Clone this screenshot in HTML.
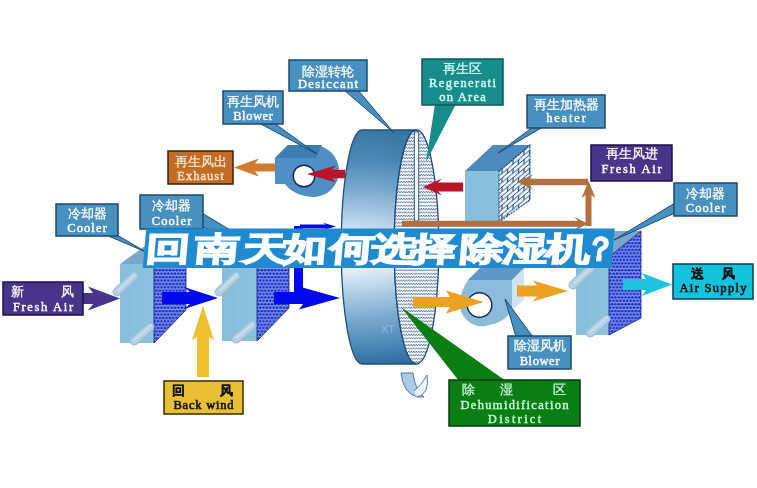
<!DOCTYPE html>
<html><head><meta charset="utf-8">
<style>
html,body{margin:0;padding:0;background:#fff;width:757px;height:488px;overflow:hidden}
svg{display:block;filter:blur(0.45px)}
.cn{font-family:"Liberation Sans",sans-serif}
.en{font-family:"Liberation Serif",serif}
</style></head><body>
<svg width="757" height="488" viewBox="0 0 757 488">
<defs>
<linearGradient id="wheelG" x1="0" y1="130" x2="0" y2="364" gradientUnits="userSpaceOnUse">
<stop offset="0" stop-color="#3676a2"/>
<stop offset="0.13" stop-color="#4a88b4"/>
<stop offset="0.256" stop-color="#7aaad0"/>
<stop offset="0.385" stop-color="#b8d4ea"/>
<stop offset="0.47" stop-color="#e0ecf6"/>
<stop offset="0.58" stop-color="#eef5fa"/>
<stop offset="0.68" stop-color="#b8d4ea"/>
<stop offset="0.81" stop-color="#78a8d0"/>
<stop offset="0.92" stop-color="#4a88b8"/>
<stop offset="1" stop-color="#2e6c9e"/>
</linearGradient>
<linearGradient id="wheelH" x1="340" y1="0" x2="400" y2="0" gradientUnits="userSpaceOnUse">
<stop offset="0" stop-color="#fff" stop-opacity="0"/>
<stop offset="1" stop-color="#1f5a8c" stop-opacity="0.08"/>
</linearGradient>
<pattern id="wave" width="5" height="3.4" patternUnits="userSpaceOnUse">
<rect width="5" height="3.4" fill="#f6fafd"/>
<path d="M-1.25 1.0 L0 2.4 L1.25 1.0 L2.5 2.4 L3.75 1.0 L5 2.4 L6.25 1.0" fill="none" stroke="#1f4585" stroke-width="0.75"/>
</pattern>
<pattern id="dots" width="3.4" height="6.8" patternUnits="userSpaceOnUse">
<rect width="3.4" height="6.8" fill="#94a8f8"/>
<circle cx="1.7" cy="1.7" r="1.45" fill="#1e32c4"/>
<circle cx="0" cy="5.1" r="1.45" fill="#1e32c4"/>
<circle cx="3.4" cy="5.1" r="1.45" fill="#1e32c4"/>
</pattern>
<pattern id="brick" width="11" height="9" patternUnits="userSpaceOnUse" patternTransform="translate(499,171) skewY(-40)">
<rect width="11" height="9" fill="#f4f8fc"/>
<path d="M0 0.5H11M0 5H11M3 0.5V5M8.5 5V9" stroke="#22508e" stroke-width="1.1" fill="none"/>
</pattern>
<linearGradient id="coolF" x1="0" y1="0" x2="1" y2="0">
<stop offset="0" stop-color="#86bdd8"/>
<stop offset="1" stop-color="#8cc2dc"/>
</linearGradient>
<linearGradient id="blueArr" x1="0" y1="0" x2="0" y2="1">
<stop offset="0" stop-color="#0a1ad8"/>
<stop offset="0.5" stop-color="#0010f0"/>
<stop offset="1" stop-color="#0a18c8"/>
</linearGradient>
</defs>
<path d="M120,264 L154,264 L186,241 L152,241 Z" fill="#7aa6cc"/>
<rect x="120" y="264" width="34" height="79" fill="url(#coolF)"/>
<path d="M154,264 L186,241 L186,310 L154,343 Z" fill="url(#dots)" stroke="#0e1c80" stroke-width="0.8"/>
<path d="M117,292 L134,276" stroke="#98bfd8" stroke-width="9" stroke-linecap="round"/>
<path d="M117,292 L134,276" stroke="#b4d2e6" stroke-width="6.5" stroke-linecap="round"/>
<path d="M118,290.5 L135,274.5" stroke="#e0edf6" stroke-width="1.3" stroke-linecap="round" opacity="0.6"/>
<path d="M134,341 L150,327" stroke="#98bfd8" stroke-width="9" stroke-linecap="round"/>
<path d="M134,341 L150,327" stroke="#b4d2e6" stroke-width="6.5" stroke-linecap="round"/>
<path d="M135,339.5 L151,325.5" stroke="#e0edf6" stroke-width="1.3" stroke-linecap="round" opacity="0.6"/>
<path d="M222,264 L257,264 L289,241 L254,241 Z" fill="#7aa6cc"/>
<rect x="222" y="264" width="35" height="77" fill="url(#coolF)"/>
<path d="M257,264 L289,241 L289,308 L257,341 Z" fill="url(#dots)" stroke="#0e1c80" stroke-width="0.8"/>
<path d="M219,292 L236,276" stroke="#98bfd8" stroke-width="9" stroke-linecap="round"/>
<path d="M219,292 L236,276" stroke="#b4d2e6" stroke-width="6.5" stroke-linecap="round"/>
<path d="M220,290.5 L237,274.5" stroke="#e0edf6" stroke-width="1.3" stroke-linecap="round" opacity="0.6"/>
<path d="M236,339 L252,325" stroke="#98bfd8" stroke-width="9" stroke-linecap="round"/>
<path d="M236,339 L252,325" stroke="#b4d2e6" stroke-width="6.5" stroke-linecap="round"/>
<path d="M237,337.5 L253,323.5" stroke="#e0edf6" stroke-width="1.3" stroke-linecap="round" opacity="0.6"/>
<path d="M576,257 L609,257 L641,231 L608,231 Z" fill="#7aa6cc"/>
<rect x="576" y="257" width="33" height="78" fill="url(#coolF)"/>
<path d="M609,257 L641,231 L641,318 L609,335 Z" fill="url(#dots)" stroke="#0e1c80" stroke-width="0.8"/>
<path d="M573,285 L590,269" stroke="#98bfd8" stroke-width="9" stroke-linecap="round"/>
<path d="M573,285 L590,269" stroke="#b4d2e6" stroke-width="6.5" stroke-linecap="round"/>
<path d="M574,283.5 L591,267.5" stroke="#e0edf6" stroke-width="1.3" stroke-linecap="round" opacity="0.6"/>
<path d="M590,333 L606,319" stroke="#98bfd8" stroke-width="9" stroke-linecap="round"/>
<path d="M590,333 L606,319" stroke="#b4d2e6" stroke-width="6.5" stroke-linecap="round"/>
<path d="M591,331.5 L607,317.5" stroke="#e0edf6" stroke-width="1.3" stroke-linecap="round" opacity="0.6"/>
<path d="M162,292.0 L190,292.0 L184,287.0 L218,298 L184,309.0 L190,304.0 L162,304.0 Z" fill="#0008ee"/>
<rect x="294" y="226" width="9" height="72" fill="#0008ee"/>
<path d="M274,292.0 L303,292.0 L299,286.5 L340,298 L299,309.5 L303,304.0 L274,304.0 Z" fill="#0008ee"/>
<path d="M300,224.5 L326,224.5 L322,222.5 L336,226.5 L322,230.5 L326,228.5 L300,228.5 Z" fill="#0008ee"/>
<path d="M83,293.0 L93,293.0 L88,286.5 L120,298.5 L88,310.5 L93,304.0 L83,304.0 Z" fill="#483488"/>
<path d="M197.0,377 L197.0,337 L192.0,340 L203,306 L214.0,340 L209.0,337 L209.0,377 Z" fill="#efc030"/>
<path d="M362,130 L416.5,130 A22.3,117 0 0 0 416.5,364 L362,364 A20.8,117 0 0 1 362,130 Z" fill="url(#wheelG)"/>
<path d="M362,130 L416.5,130 A22.3,117 0 0 0 416.5,364 L362,364 A20.8,117 0 0 1 362,130 Z" fill="url(#wheelH)" stroke="#1d5080" stroke-width="1.3"/>
<ellipse cx="416.5" cy="247" rx="22.3" ry="117" fill="url(#wave)" stroke="#1d4a80" stroke-width="1.3"/>
<rect x="414.3" y="132" width="4.4" height="89" fill="#fff" stroke="#1d4a80" stroke-width="0.9"/>
<text x="381" y="333" font-family="Liberation Sans, sans-serif" font-size="11" fill="#ffffff" fill-opacity="0.3">XT</text>
<path d="M401,373 L413,373 Q415,390 424,397 L417,397 Q403,393 401,373 Z" fill="#a9cde8" stroke="#3f73a6" stroke-width="0.9"/>
<path d="M417,397 Q430,394 427,375 Q421,386 414,391" fill="#eef5fb" stroke="#3f73a6" stroke-width="0.9"/>
<path d="M275,158 L288,145 L313,145 A26,26 0 0 1 339,171 A26,26 0 0 1 313,197 Q294,196 285,184 L275,184 Z" fill="#4f8fc3"/>
<path d="M275,158 L288,145 L322,145 L316,158 Z" fill="#3e7db2"/>
<circle cx="304" cy="176" r="10.8" fill="#fff" stroke="#17284c" stroke-width="1.4"/>
<path d="M345,169.75 L332,169.75 L336,165.5 L307,174 L336,182.5 L332,178.25 L345,178.25 Z" fill="#b8142a"/>
<path d="M275,163.5 L255,163.5 L259,158.5 L234,167.5 L259,176.5 L255,171.5 L275,171.5 Z" fill="#d27a30"/>
<path d="M465,171 L499,171 L530,145 L493,145 Z" fill="#4d8bbf"/>
<rect x="465" y="171" width="34" height="51" fill="#88c0dc"/>
<path d="M499,171 L530,145 L530,200 L499,222 Z" fill="url(#brick)" stroke="#22508e" stroke-width="1.2" stroke-dasharray="2,1"/>
<path d="M463,182.5 L438,182.5 L442,178.5 L423,187 L442,195.5 L438,191.5 L463,191.5 Z" fill="#b8142a"/>
<path d="M402,220.8 L578,220.8 L574,216.8 L588,223.8 L574,230.8 L578,226.8 L402,226.8 Z" fill="#b0703f"/>
<path d="M585.5,226 L585.5,195 L581.5,198 L588.5,181 L595.5,198 L591.5,195 L591.5,226 Z" fill="#b0703f"/>
<path d="M588,178.75 L529,178.75 L533,174.5 L517,182 L533,189.5 L529,185.25 L588,185.25 Z" fill="#b0703f"/>
<path d="M468,280 L512,280 L512,308 Q508,322 485,326 A22,22 0 0 1 460,302 Q461,290 468,280 Z" fill="#88bcd8"/>
<path d="M512,280 L524,268 L524,300 L512,310 Z" fill="#cfe3f2"/>
<path d="M468,280 L480,268 L524,268 L512,280 Z" fill="#5f98c8"/>
<circle cx="479.5" cy="305" r="12.3" fill="#fff" stroke="#17284c" stroke-width="1.4"/>
<path d="M413,297.0 L450,297.0 L446,290.5 L483.5,302 L446,313.5 L450,307.0 L413,307.0 Z" fill="#eba122"/>
<path d="M517,285.5 L537,285.5 L533,280.5 L568,291 L533,301.5 L537,296.5 L517,296.5 Z" fill="#eba122"/>
<path d="M623,279.0 L646,279.0 L642,273.0 L672,284.5 L642,296.0 L646,290.0 L623,290.0 Z" fill="#1cc4e0"/>
<path d="M344,90 L358,90 L394,133 Z" fill="#4890c0" stroke="#1c4a70" stroke-width="1"/>
<path d="M259,123 L274,123 L317,154 Z" fill="#4890c0" stroke="#1c4a70" stroke-width="1"/>
<path d="M435,104 L456,104 L426,162 Z" fill="#178c8a"/>
<path d="M533,127 L543,127 L498,153 Z" fill="#4890c0" stroke="#1c4a70" stroke-width="1"/>
<path d="M675,203 L675,213 L614,240 Z" fill="#4890c0" stroke="#1c4a70" stroke-width="1"/>
<path d="M106,235 L117,235 L146,252 Z" fill="#4890c0" stroke="#1c4a70" stroke-width="1"/>
<path d="M202,213 L202,227 L250,242 Z" fill="#4890c0" stroke="#1c4a70" stroke-width="1"/>
<path d="M516,337 L533,337 L505,299 Z" fill="#4890c0" stroke="#1c4a70" stroke-width="1"/>
<path d="M459,381 L506,381 L401,307 Z" fill="#0a7e14"/>
<rect x="289" y="60" width="78" height="31" fill="#4890c0" stroke="#1c4a70" stroke-width="1.5"/>
<text x="328.0" y="76" text-anchor="middle" fill="#fff" class="cn" font-size="13" font-weight="500" stroke="#fff" stroke-width="0.25">除湿转轮</text>
<text x="328.0" y="88" text-anchor="middle" fill="#fff" class="en" font-size="12.5" font-weight="400" stroke="#fff" stroke-width="0.4" textLength="60.1" lengthAdjust="spacing">Desiccant</text>
<rect x="223" y="91" width="60" height="33" fill="#4890c0" stroke="#1c4a70" stroke-width="1.5"/>
<text x="253.0" y="106" text-anchor="middle" fill="#fff" class="cn" font-size="13" font-weight="500" stroke="#fff" stroke-width="0.25">再生风机</text>
<text x="253.0" y="120" text-anchor="middle" fill="#fff" class="en" font-size="12.5" font-weight="400" stroke="#fff" stroke-width="0.4" textLength="39.6" lengthAdjust="spacing">Blower</text>
<rect x="168" y="151" width="65" height="33" fill="#c26c26" stroke="#3a2008" stroke-width="1.5"/>
<text x="200.5" y="166" text-anchor="middle" fill="#fbe6cf" class="cn" font-size="13" font-weight="500" stroke="#fbe6cf" stroke-width="0.25">再生风出</text>
<text x="200.5" y="180" text-anchor="middle" fill="#fbe6cf" class="en" font-size="12.5" font-weight="400" stroke="#fbe6cf" stroke-width="0.4" textLength="46.4" lengthAdjust="spacing">Exhaust</text>
<rect x="422" y="59" width="81" height="46" fill="#178c8a" stroke="#0b5a5a" stroke-width="1.5"/>
<text x="462.5" y="73" text-anchor="middle" fill="#d8fff8" class="cn" font-size="13" font-weight="500" stroke="#d8fff8" stroke-width="0.25">再生区</text>
<text x="462.5" y="87" text-anchor="middle" fill="#d8fff8" class="en" font-size="12.5" font-weight="400" stroke="#d8fff8" stroke-width="0.4" textLength="67.0" lengthAdjust="spacing">Regenerati</text>
<text x="462.5" y="101" text-anchor="middle" fill="#d8fff8" class="en" font-size="12.5" font-weight="400" stroke="#d8fff8" stroke-width="0.4" textLength="46.4" lengthAdjust="spacing">on Area</text>
<rect x="527" y="95" width="78" height="33" fill="#4890c0" stroke="#1c4a70" stroke-width="1.5"/>
<text x="566.0" y="109" text-anchor="middle" fill="#fff" class="cn" font-size="13" font-weight="500" stroke="#fff" stroke-width="0.25">再生加热器</text>
<text x="566.0" y="122" text-anchor="middle" fill="#fff" class="en" font-size="12.5" font-weight="400" stroke="#fff" stroke-width="0.4" textLength="39.6" lengthAdjust="spacing">heater</text>
<rect x="591" y="145" width="81" height="36" fill="#47358a" stroke="#1c1050" stroke-width="1.5"/>
<text x="631.5" y="158" text-anchor="middle" fill="#fff" class="cn" font-size="13" font-weight="500" stroke="#fff" stroke-width="0.25">再生风进</text>
<text x="631.5" y="173" text-anchor="middle" fill="#fff" class="en" font-size="12.5" font-weight="400" stroke="#fff" stroke-width="0.4" textLength="60.1" lengthAdjust="spacing">Fresh Air</text>
<rect x="674" y="183" width="63" height="33" fill="#4890c0" stroke="#1c4a70" stroke-width="1.5"/>
<text x="705.5" y="198" text-anchor="middle" fill="#fff" class="cn" font-size="13" font-weight="500" stroke="#fff" stroke-width="0.25">冷却器</text>
<text x="705.5" y="212" text-anchor="middle" fill="#fff" class="en" font-size="12.5" font-weight="400" stroke="#fff" stroke-width="0.4" textLength="39.6" lengthAdjust="spacing">Cooler</text>
<rect x="673" y="264" width="80" height="35" fill="#14c2dc" stroke="#0a3a5a" stroke-width="1.5"/>
<text x="697.5" y="278" text-anchor="middle" fill="#111" class="cn" font-size="13" font-weight="700" stroke="#111" stroke-width="0.25">送</text>
<text x="728.5" y="278" text-anchor="middle" fill="#111" class="cn" font-size="13" font-weight="700" stroke="#111" stroke-width="0.25">风</text>
<text x="713.0" y="292" text-anchor="middle" fill="#111" class="en" font-size="12.5" font-weight="400" stroke="#111" stroke-width="0.6" textLength="67.0" lengthAdjust="spacing">Air Supply</text>
<rect x="508" y="336" width="63" height="33" fill="#4890c0" stroke="#1c4a70" stroke-width="1.5"/>
<text x="539.5" y="350" text-anchor="middle" fill="#fff" class="cn" font-size="13" font-weight="500" stroke="#fff" stroke-width="0.25">除湿风机</text>
<text x="539.5" y="365" text-anchor="middle" fill="#fff" class="en" font-size="12.5" font-weight="400" stroke="#fff" stroke-width="0.4" textLength="39.6" lengthAdjust="spacing">Blower</text>
<rect x="449" y="380" width="131" height="46" fill="#0a7e14" stroke="#043a14" stroke-width="1.5"/>
<text x="468.5" y="394" text-anchor="middle" fill="#c8ffd8" class="cn" font-size="13" font-weight="500" stroke="#c8ffd8" stroke-width="0.25">除</text>
<text x="506" y="394" text-anchor="middle" fill="#c8ffd8" class="cn" font-size="13" font-weight="500" stroke="#c8ffd8" stroke-width="0.25">湿</text>
<text x="559" y="394" text-anchor="middle" fill="#c8ffd8" class="cn" font-size="13" font-weight="500" stroke="#c8ffd8" stroke-width="0.25">区</text>
<text x="514.5" y="409" text-anchor="middle" fill="#c8ffd8" class="en" font-size="12.5" font-weight="400" stroke="#c8ffd8" stroke-width="0.4" textLength="108.1" lengthAdjust="spacing">Dehumidification</text>
<text x="514.5" y="423" text-anchor="middle" fill="#c8ffd8" class="en" font-size="12.5" font-weight="400" stroke="#c8ffd8" stroke-width="0.4" textLength="53.3" lengthAdjust="spacing">District</text>
<rect x="56" y="204" width="62" height="32" fill="#4890c0" stroke="#1c4a70" stroke-width="1.5"/>
<text x="87.0" y="218" text-anchor="middle" fill="#fff" class="cn" font-size="13" font-weight="500" stroke="#fff" stroke-width="0.25">冷却器</text>
<text x="87.0" y="232" text-anchor="middle" fill="#fff" class="en" font-size="12.5" font-weight="400" stroke="#fff" stroke-width="0.4" textLength="39.6" lengthAdjust="spacing">Cooler</text>
<rect x="140" y="195" width="63" height="34" fill="#4890c0" stroke="#1c4a70" stroke-width="1.5"/>
<text x="171.5" y="210" text-anchor="middle" fill="#fff" class="cn" font-size="13" font-weight="500" stroke="#fff" stroke-width="0.25">冷却器</text>
<text x="171.5" y="224.5" text-anchor="middle" fill="#fff" class="en" font-size="12.5" font-weight="400" stroke="#fff" stroke-width="0.4" textLength="39.6" lengthAdjust="spacing">Cooler</text>
<rect x="3" y="282" width="80" height="33" fill="#47358a" stroke="#1c1050" stroke-width="1.5"/>
<text x="17.5" y="296" text-anchor="middle" fill="#fff" class="cn" font-size="13" font-weight="500" stroke="#fff" stroke-width="0.25">新</text>
<text x="67.5" y="296" text-anchor="middle" fill="#fff" class="cn" font-size="13" font-weight="500" stroke="#fff" stroke-width="0.25">风</text>
<text x="43.0" y="311" text-anchor="middle" fill="#fff" class="en" font-size="12.5" font-weight="400" stroke="#fff" stroke-width="0.4" textLength="60.1" lengthAdjust="spacing">Fresh Air</text>
<rect x="164" y="381" width="79" height="33" fill="#e9bf35" stroke="#3a2a00" stroke-width="1.5"/>
<text x="178" y="395" text-anchor="middle" fill="#111" class="cn" font-size="13" font-weight="700" stroke="#111" stroke-width="0.25">回</text>
<text x="226" y="395" text-anchor="middle" fill="#111" class="cn" font-size="13" font-weight="700" stroke="#111" stroke-width="0.25">风</text>
<text x="203.5" y="409" text-anchor="middle" fill="#111" class="en" font-size="12.5" font-weight="400" stroke="#111" stroke-width="0.6" textLength="60.1" lengthAdjust="spacing">Back wind</text>
<g transform="translate(0,248) skewX(-5) translate(0,-248)">
<rect x="144.5" y="228.5" width="468.5" height="39.5" fill="#1f8ad0"/>
<g transform="translate(0,248.5) scale(1,0.73) translate(0,-248.5)">
<text x="146 194.7 243 283.5 329.8 372.5 412.2 459.9 502.6 546.3" y="264" font-family="Liberation Sans, sans-serif" font-size="44.6" font-weight="900" fill="#fff" stroke="#fff" stroke-width="2" stroke-linejoin="miter">回南天如何选择除湿机</text>
<g transform="translate(580,0) scale(0.68,1) translate(-580,0)">
<text x="587" y="264" font-family="Liberation Sans, sans-serif" font-size="44.6" font-weight="900" fill="#fff" stroke="#fff" stroke-width="1.8" stroke-linejoin="miter">？</text>
</g>
</g>
</g>
</svg>
</body></html>
